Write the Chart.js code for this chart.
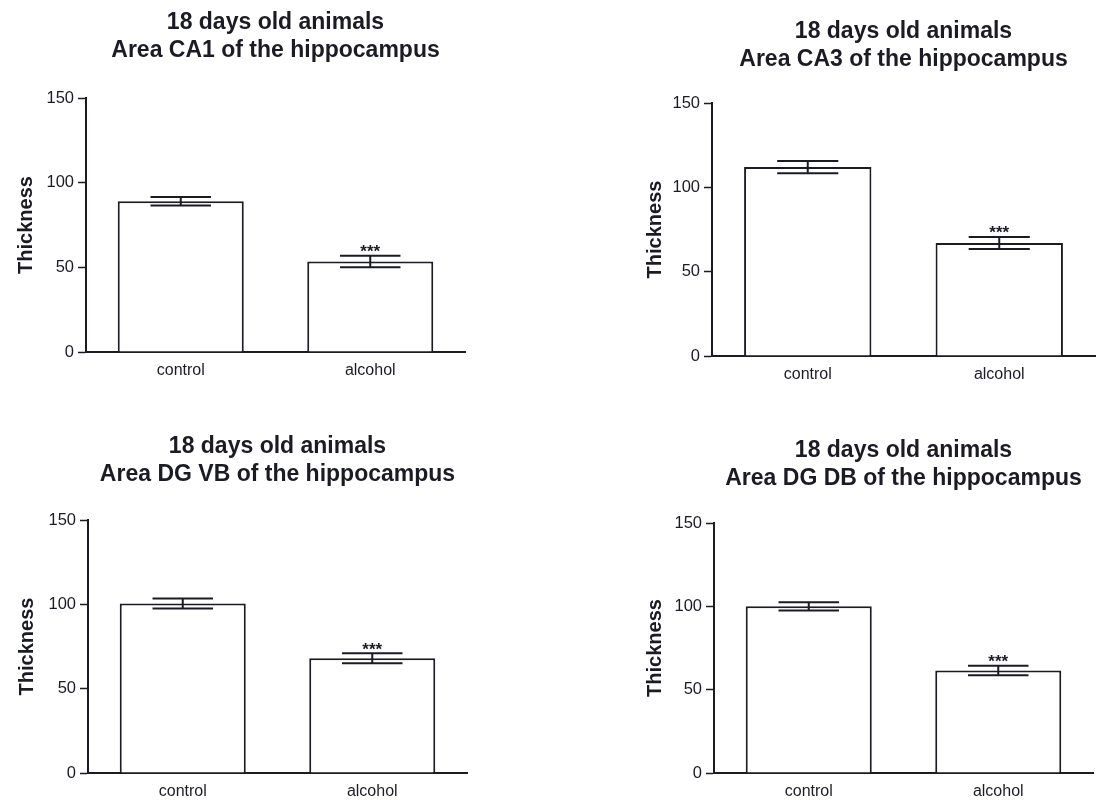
<!DOCTYPE html>
<html>
<head>
<meta charset="utf-8">
<script src="https://cdn.jsdelivr.net/npm/chart.js@4/dist/chart.umd.min.js"></script>
<style>
  html, body { margin: 0; padding: 0; background: #fff; overflow: hidden; }
  body { width: 1097px; height: 804px; position: relative; }
  .panel { position: absolute; }
</style>
</head>
<body>
<div class="panel" id="p1" style="left:0px;top:0px;width:467px;height:382px"><canvas id="c1"></canvas></div>
<div class="panel" id="p2" style="left:630px;top:0px;width:467px;height:386px"><canvas id="c2"></canvas></div>
<div class="panel" id="p3" style="left:0px;top:400px;width:469px;height:403px"><canvas id="c3"></canvas></div>
<div class="panel" id="p4" style="left:630px;top:400px;width:465px;height:403px"><canvas id="c4"></canvas></div>
<script>
  var categories = ['control', 'alcohol'];
  var yTicks = [0, 50, 100, 150];
  var stars = ['', '***'];

  var ca1Mean = [89, 53.5];
  var ca1Sem = [2.5, 3.4];
  var ca3Mean = [112, 67];
  var ca3Sem = [3.6, 3.6];
  var dgvbMean = [100.5, 68];
  var dgvbSem = [3, 3];
  var dgdbMean = [100, 61.5];
  var dgdbSem = [2.5, 2.8];

  var ink = '#1b1b24';
  var fontName = "'Liberation Sans', Arial, Helvetica, sans-serif";

  // error bars + significance stars, drawn from the y scale
  var errorBars = {
    id: 'errorBars',
    afterDatasetsDraw: function(chart, args, opts) {
      var ctx = chart.ctx;
      var meta = chart.getDatasetMeta(0);
      var yScale = chart.scales.y;
      var sem = opts.sem;
      var mean = chart.data.datasets[0].data;
      ctx.save();
      ctx.strokeStyle = ink;
      ctx.lineWidth = 2;
      meta.data.forEach(function(bar, i) {
        var x = bar.x;
        var half = bar.width * 0.24;
        var yHi = yScale.getPixelForValue(mean[i] + sem[i]);
        var yLo = yScale.getPixelForValue(mean[i] - sem[i]);
        ctx.beginPath();
        ctx.moveTo(x, yHi); ctx.lineTo(x, yLo);
        ctx.moveTo(x - half, yHi); ctx.lineTo(x + half, yHi);
        ctx.moveTo(x - half, yLo); ctx.lineTo(x + half, yLo);
        ctx.stroke();
        if (stars[i]) {
          ctx.fillStyle = ink;
          ctx.font = 'bold 17px ' + fontName;
          ctx.textAlign = 'center';
          ctx.textBaseline = 'alphabetic';
          ctx.fillText(stars[i], x, yHi + 1.5);
        }
      });
      ctx.restore();
    }
  };

  function makePanel(id, area, mean, sem, axisWidth, yTitlePad, titlePadTop, titlePadBottom) {
    return new Chart(document.getElementById(id), {
      type: 'bar',
      data: {
        labels: categories,
        datasets: [{
          data: mean,
          backgroundColor: '#ffffff',
          borderColor: ink,
          borderWidth: 2,
          barPercentage: 0.665,
          categoryPercentage: 1
        }]
      },
      options: {
        responsive: true,
        maintainAspectRatio: false,
        animation: false,
        events: [],
        layout: { padding: { left: 0, right: 2, top: 0, bottom: 0 } },
        plugins: {
          legend: { display: false },
          tooltip: { enabled: false },
          title: {
            display: true,
            fullSize: false,
            text: ['18 days old animals', 'Area ' + area + ' of the hippocampus'],
            color: ink,
            font: { family: fontName, size: 23, weight: 'bold', lineHeight: 28 / 23 },
            padding: { top: titlePadTop, bottom: titlePadBottom }
          },
          errorBars: { sem: sem }
        },
        scales: {
          x: {
            offset: true,
            grid: { display: false, drawTicks: false },
            border: { display: true, color: ink, width: 2 },
            ticks: { color: ink, padding: 9, font: { family: fontName, size: 16 } },
            afterFit: function(scale) { scale.height = 30; }
          },
          y: {
            min: 0,
            max: 150,
            afterBuildTicks: function(scale) {
              scale.ticks = yTicks.map(function(v) { return { value: v }; });
            },
            grid: { display: true, drawOnChartArea: false, tickLength: 8, tickColor: ink, tickWidth: 1.5 },
            border: { display: true, color: ink, width: 2 },
            ticks: { color: ink, padding: 4, font: { family: fontName, size: 16.5 } },
            title: {
              display: true,
              text: 'Thickness',
              color: ink,
              font: { family: fontName, size: 20, weight: 'bold', lineHeight: 1.2 },
              padding: { top: yTitlePad, bottom: 0 }
            },
            afterFit: function(scale) { scale.width = axisWidth; }
          }
        }
      },
      plugins: [errorBars]
    });
  }

  makePanel('c1', 'CA1', ca1Mean, ca1Sem, 86, 14, 9, 33);
  makePanel('c2', 'CA3', ca3Mean, ca3Sem, 82, 13, 18, 29);
  makePanel('c3', 'DG VB', dgvbMean, dgvbSem, 88, 15.5, 32.5, 31.5);
  makePanel('c4', 'DG DB', dgdbMean, dgdbSem, 84, 13.5, 36.5, 30.5);
</script>
</body>
</html>
